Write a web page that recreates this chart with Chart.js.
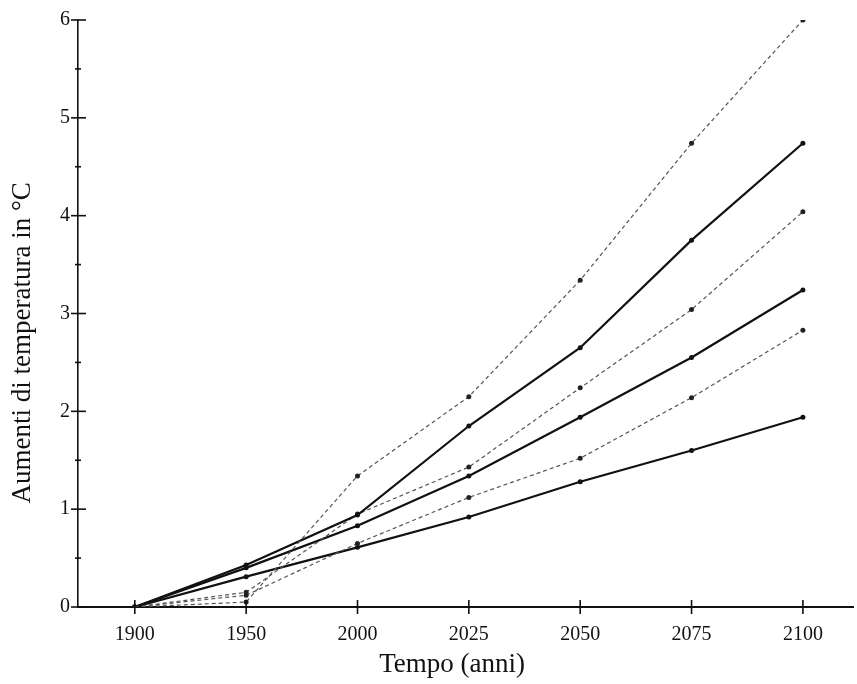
<!DOCTYPE html>
<html>
<head>
<meta charset="utf-8">
<script src="https://cdn.jsdelivr.net/npm/chart.js@4/dist/chart.umd.min.js"></script>
<style>
  html, body { margin: 0; padding: 0; background: #fff; }
  canvas { display: block; }
</style>
</head>
<body>
<canvas id="c" width="857" height="684"></canvas>
<script>
// ---- data ----
const years = ['1900', '1950', '2000', '2025', '2050', '2075', '2100'];
const yTickValues = [0, 1, 2, 3, 4, 5, 6];

const solidHigh  = [0, 0.43, 0.94, 1.85, 2.65, 3.75, 4.74];
const solidMid   = [0, 0.40, 0.83, 1.34, 1.94, 2.55, 3.24];
const solidLow   = [0, 0.31, 0.61, 0.92, 1.28, 1.60, 1.94];
const dashedHigh = [0, 0.05, 1.34, 2.15, 3.34, 4.74, 6.00];
const dashedMid  = [0, 0.15, 0.95, 1.43, 2.24, 3.04, 4.04];
const dashedLow  = [0, 0.12, 0.65, 1.12, 1.52, 2.14, 2.83];

const xTitle = 'Tempo (anni)';
const yTitle = 'Aumenti di temperatura in °C';

// ---- helpers ----
const toPoints = arr => arr.map((v, i) => ({ x: i, y: v }));
const serif = '"Liberation Serif", "DejaVu Serif", serif';

function solid(data) {
  return {
    data: toPoints(data),
    borderColor: '#111',
    backgroundColor: '#111',
    borderWidth: 2.2,
    pointRadius: 2.5,
    pointBorderWidth: 0,
    pointBackgroundColor: '#111',
    tension: 0,
    fill: false
  };
}
function dashed(data) {
  return {
    data: toPoints(data),
    borderColor: '#555',
    backgroundColor: '#222',
    borderWidth: 1.2,
    borderDash: [4, 3],
    pointRadius: 2.5,
    pointBorderWidth: 0,
    pointBackgroundColor: '#222',
    tension: 0,
    fill: false
  };
}

const axisTicks = {
  id: 'axisTicks',
  afterDraw(chart) {
    const { ctx, scales: { x, y } } = chart;
    ctx.save();
    ctx.strokeStyle = '#111';
    ctx.lineWidth = 1.6;
    const yBase = y.getPixelForValue(0);
    for (let i = 0; i < years.length; i++) {
      const px = x.getPixelForValue(i);
      ctx.beginPath();
      ctx.moveTo(px, yBase - 7);
      ctx.lineTo(px, yBase + 7);
      ctx.stroke();
    }
    const xBase = x.left;
    for (let k = 0; k < yTickValues.length; k++) {
      const v = yTickValues[k];
      const py = y.getPixelForValue(v);
      ctx.beginPath();
      ctx.moveTo(xBase - 7, py);
      ctx.lineTo(xBase + 8, py);
      ctx.stroke();
      if (k < yTickValues.length - 1) {
        const pm = y.getPixelForValue(v + 0.5);
        ctx.beginPath();
        ctx.moveTo(xBase - 3, pm);
        ctx.lineTo(xBase + 3, pm);
        ctx.stroke();
      }
    }
    // axis titles, placed as in the reference
    ctx.fillStyle = '#111';
    ctx.font = '27px ' + serif;
    ctx.textAlign = 'center';
    ctx.textBaseline = 'middle';
    ctx.fillText(xTitle, x.getPixelForValue(2.85), 665);
    ctx.translate(23, y.getPixelForValue(2.7));
    ctx.rotate(-Math.PI / 2);
    ctx.fillText(yTitle, 0, 0);
    ctx.restore();
  }
};

new Chart(document.getElementById('c'), {
  type: 'line',
  data: {
    datasets: [
      dashed(dashedHigh),
      solid(solidHigh),
      dashed(dashedMid),
      solid(solidMid),
      dashed(dashedLow),
      solid(solidLow)
    ]
  },
  options: {
    responsive: false,
    animation: false,
    layout: { padding: { top: 19, right: 0, bottom: 0, left: 0 } },
    plugins: { legend: { display: false }, tooltip: { enabled: false } },
    scales: {
      x: {
        type: 'linear',
        min: -0.51,
        max: 6.45,
        grid: { display: false, drawTicks: false },
        border: { display: true, color: '#111', width: 2 },
        afterBuildTicks: s => { s.ticks = years.map((_, i) => ({ value: i })); },
        afterFit: s => { s.height = 77; },
        ticks: {
          callback: v => years[v],
          color: '#111',
          font: { family: serif, size: 20 },
          padding: 16,
          maxRotation: 0,
          autoSkip: false
        },
        title: { display: false, text: xTitle }
      },
      y: {
        min: 0,
        max: 6,
        grid: { display: false, drawTicks: false },
        border: { display: true, color: '#111', width: 1.6 },
        afterBuildTicks: s => { s.ticks = yTickValues.map(v => ({ value: v })); },
        afterFit: s => { s.width = 78; },
        ticks: {
          color: '#111',
          font: { family: serif, size: 20 },
          padding: 8
        },
        title: { display: false, text: yTitle }
      }
    }
  },
  plugins: [axisTicks]
});
</script>
</body>
</html>
